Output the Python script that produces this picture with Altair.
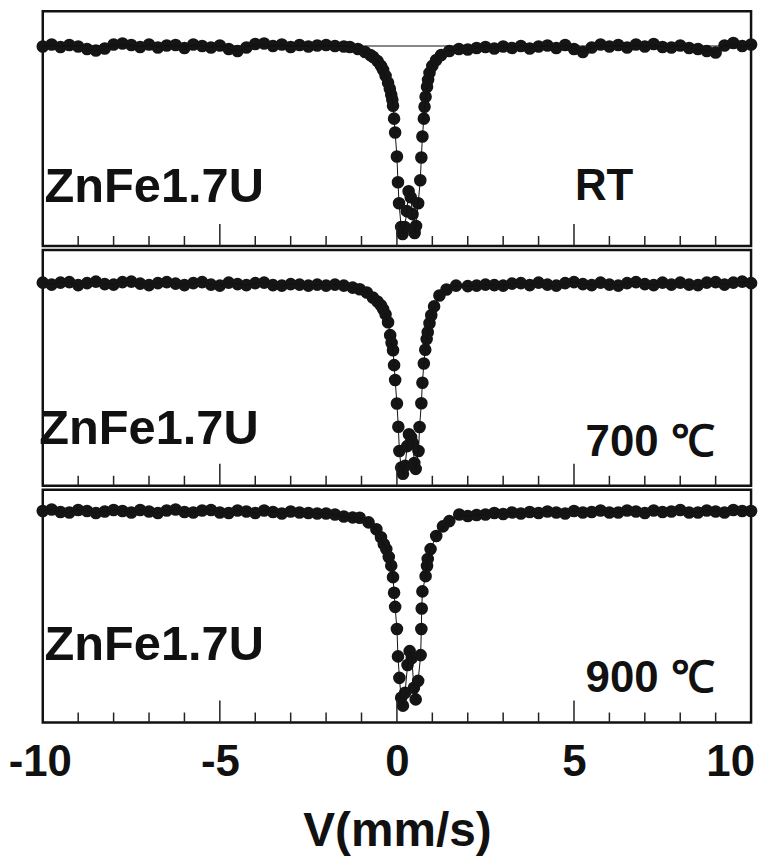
import altair as alt
import pandas as pd

# ---------------- data ----------------
# velocity channels of the wings (mm/s)
wing_left_v = [-10.0, -9.75, -9.5, -9.25, -9.0, -8.75, -8.5, -8.25, -8.0, -7.75, -7.5,
               -7.25, -7.0, -6.75, -6.5, -6.25, -6.0, -5.75, -5.5, -5.25, -5.0, -4.75,
               -4.5, -4.25, -4.0, -3.75, -3.5, -3.25, -3.0, -2.75, -2.5, -2.25, -2.0]
wing_right_v = [2.0, 2.25, 2.5, 2.75, 3.0, 3.25, 3.5, 3.75, 4.0, 4.25, 4.5, 4.75, 5.0,
                5.25, 5.5, 5.75, 6.0, 6.25, 6.5, 6.75, 7.0, 7.25, 7.5, 7.75, 8.0, 8.25,
                8.5, 8.75, 9.0, 9.25, 9.5, 9.75, 10.0]

# relative transmission (%) - RT
rt_left_T = [100.0, 100.2, 99.95, 100.15, 100.0, 99.75, 99.6, 99.8, 100.2, 100.3, 100.15,
             99.95, 100.2, 99.9, 100.1, 100.15, 99.85, 100.2, 100.05, 99.9, 100.1, 99.75,
             99.55, 99.9, 100.25, 100.3, 100.05, 100.2, 99.95, 100.15, 100.0, 100.1, 100.15]
rt_right_T = [99.7, 99.85, 99.95, 99.8, 100.0, 99.85, 100.05, 99.8, 100.0, 100.1, 99.85,
              100.15, 99.75, 99.45, 99.9, 100.2, 100.0, 100.15, 99.9, 100.2, 100.0,
              100.25, 99.95, 99.9, 100.1, 99.85, 99.75, 99.55, 99.4, 100.1, 100.35, 100.05,
              100.2]
rt_dip_v = [-1.75, -1.5, -1.33, -1.1, -0.9, -0.75, -0.67, -0.55, -0.45, -0.39, -0.32,
            -0.25, -0.2, -0.16, -0.13, -0.11, -0.08, -0.05, 0.0, 0.03, 0.06, 0.12, 0.16,
            0.22, 0.28, 0.33, 0.39, 0.44, 0.5, 0.54, 0.6, 0.66, 0.69, 0.72, 0.76, 0.78,
            0.81, 0.85, 0.88, 0.92, 1.0, 1.11, 1.25, 1.48, 1.75]
rt_dip_T = [100.05, 100.0, 99.95, 99.75, 99.45, 99.15, 98.95, 98.55, 98.05, 97.65, 97.05,
            96.35, 95.75, 95.15, 94.65, 94.05, 92.75, 91.35, 88.95, 86.35, 84.25, 81.85,
            81.15, 81.85, 83.45, 85.45, 84.85, 83.15, 81.25, 81.95, 84.25, 86.55, 88.85,
            90.95, 92.75, 93.95, 94.95, 95.95, 96.65, 97.35, 98.05, 98.65, 99.15, 99.55,
            99.75]
rt_comp_v = [-10.0, 10.0]
rt_comp_T = [100.05, 100.05]

# 700 C
s700_left_T = [100.1, 99.9, 100.1, 100.15, 99.85, 100.05, 100.2, 99.95, 99.9, 100.15,
               100.2, 100.0, 99.85, 100.05, 100.15, 100.0, 99.85, 100.05, 100.15, 99.9, 99.8,
               100.1, 99.95, 99.85, 100.05, 100.1, 99.85, 99.8, 99.95, 99.9, 99.8, 99.9,
               99.8]
s700_right_T = [99.75, 99.8, 99.9, 99.85, 99.8, 100.0, 100.05, 99.85, 100.1, 99.9, 99.8,
                100.05, 100.15, 99.95, 99.85, 100.1, 99.9, 99.8, 100.05, 100.15, 99.95, 99.85,
                100.1, 99.9, 100.1, 99.9, 99.85, 100.1, 100.15, 99.9, 100.1, 100.2,
                100.05]
s700_dip_v = [-1.75, -1.5, -1.25, -1.05, -0.85, -0.68, -0.55, -0.45, -0.39, -0.32, -0.25,
              -0.19, -0.15, -0.11, -0.08, -0.05, 0.0, 0.04, 0.07, 0.12, 0.17, 0.23, 0.29,
              0.34, 0.4, 0.45, 0.49, 0.53, 0.61, 0.64, 0.69, 0.72, 0.76, 0.8, 0.84, 0.87,
              0.92, 0.97, 1.05, 1.2, 1.4, 1.67]
s700_dip_T = [99.9, 99.8, 99.6, 99.43, 99.1, 98.6, 98.2, 97.8, 97.43, 96.9, 96.1, 94.8,
              94.0, 93.27, 91.77, 90.27, 87.9, 85.55, 83.1, 81.43, 80.8, 81.6, 83.6, 84.8,
              84.5, 83.9, 81.9, 81.3, 83.1, 85.53, 87.93, 90.0, 91.93, 93.33, 94.4, 95.1,
              96.0, 96.8, 97.7, 98.8, 99.4, 99.8]

# 900 C
s900_left_T = [100.05, 100.2, 99.95, 99.9, 100.15, 100.05, 99.85, 100.0, 100.15, 100.05,
               99.9, 100.15, 100.0, 99.85, 100.1, 100.2, 99.95, 99.9, 100.1, 100.15, 99.9,
               99.85, 100.1, 100.0, 99.85, 100.1, 99.95, 99.8, 100.0, 99.9, 99.85, 99.8,
               99.8]
s900_right_T = [99.55, 99.65, 99.7, 99.85, 99.75, 99.9, 99.8, 99.95, 99.85, 100.0, 99.9,
                99.8, 100.05, 99.9, 99.95, 100.1, 99.9, 99.9, 100.1, 100.0, 99.85, 100.1,
                99.95, 100.0, 100.15, 99.9, 99.9, 100.1, 100.0, 99.9, 100.15, 100.05,
                100.05]
s900_dip_v = [-1.75, -1.5, -1.25, -1.05, -0.8, -0.58, -0.45, -0.37, -0.3, -0.23, -0.16,
              -0.11, -0.08, -0.05, 0.0, 0.03, 0.07, 0.12, 0.17, 0.23, 0.3, 0.36, 0.42,
              0.48, 0.53, 0.6, 0.67, 0.69, 0.7, 0.72, 0.81, 0.85, 0.87, 0.95, 1.11, 1.3,
              1.48, 1.76]
s900_dip_T = [99.7, 99.5, 99.4, 99.37, 98.9, 98.2, 97.4, 96.7, 96.2, 95.4, 94.53, 93.37,
              91.8, 90.37, 88.13, 85.37, 83.2, 81.2, 80.4, 81.7, 84.5, 85.9, 85.2, 82.2,
              81.03, 82.9, 85.5, 88.13, 90.2, 91.93, 93.47, 94.5, 95.2, 96.2, 97.53, 98.5,
              99.03, 99.7]

minor_ticks = [-9, -8, -7, -6, -4, -3, -2, -1, 1, 2, 3, 4, 6, 7, 8, 9]
major_ticks = [-5, 0, 5]
x_labels = [-10, -5, 0, 5, 10]

sample_name = "ZnFe1.7U"
conditions = ["RT", "700 \u2103", "900 \u2103"]

# annotation anchors (data coordinates)
name_pos = [(-9.95, 84.35), (-10.1, 83.8), (-9.95, 85.0)]
cond_pos = [(5.85, 84.6), (7.15, 82.6), (7.15, 81.8)]
cond_size = [44, 44, 44]

# ---------------- chart ----------------
W = 712
FONT = "Liberation Sans"
DOT = "#151515"

def panel(left_T, right_T, dip_v, dip_T, ydom, h, cond, npos, cpos, csize,
          comp=None, bottom=False):
    v = wing_left_v + dip_v + wing_right_v
    T = left_T + dip_T + right_T
    df = pd.DataFrame({"v": v, "T": T}).sort_values("v")
    if bottom:
        xax = alt.Axis(values=x_labels, ticks=False, domain=False, grid=False,
                       labelExpr="'' + datum.value",
                       labelOffset=alt.ExprRef(expr="datum.value == 10 ? -21 : (datum.value == -10 ? -3 : 0)"),
                       labelFont=FONT, labelFontSize=44, labelFontWeight="bold",
                       labelColor="#111", labelPadding=18, title="V(mm/s)",
                       titleFont=FONT, titleFontSize=48, titleFontWeight="bold",
                       titleColor="#111", titlePadding=24, labelFlush=False)
    else:
        xax = None
    xs = alt.Scale(domain=[-10, 10], nice=False, zero=False)
    ys = alt.Scale(domain=ydom, nice=False, zero=False)
    X = alt.X("v:Q", scale=xs, axis=xax)
    Y = alt.Y("T:Q", scale=ys, axis=None)

    pts = alt.Chart(df).mark_circle(size=160, color=DOT, opacity=1).encode(x=X, y=Y)
    fit = alt.Chart(df).mark_line(color="#111", strokeWidth=1).encode(
        x=alt.X("v:Q", scale=xs), y=alt.Y("T:Q", scale=ys))
    layers = [pts, fit]
    if comp is not None:
        cdf = pd.DataFrame({"v": comp[0], "T": comp[1]})
        layers.append(alt.Chart(cdf).mark_line(color="#111", strokeWidth=1).encode(
            x=alt.X("v:Q", scale=xs), y=alt.Y("T:Q", scale=ys)))
    tmin = alt.Chart(pd.DataFrame({"t": minor_ticks})).mark_rule(
        color="#222", strokeWidth=1.5).encode(
        x=alt.X("t:Q", scale=xs), y=alt.value(h), y2=alt.value(h - 10))
    tmaj = alt.Chart(pd.DataFrame({"t": major_ticks})).mark_rule(
        color="#222", strokeWidth=1.5).encode(
        x=alt.X("t:Q", scale=xs), y=alt.value(h), y2=alt.value(h - 22))
    ann = pd.DataFrame({"txt": [sample_name], "v": [npos[0]], "T": [npos[1]]})
    t1 = alt.Chart(ann).mark_text(font=FONT, fontSize=49, fontWeight="bold",
                                  color="#111", align="left",
                                  baseline="alphabetic").encode(
        x=alt.X("v:Q", scale=xs), y=alt.Y("T:Q", scale=ys), text="txt:N")
    ann2 = pd.DataFrame({"txt": [cond], "v": [cpos[0]], "T": [cpos[1]]})
    t2 = alt.Chart(ann2).mark_text(font=FONT, fontSize=csize, fontWeight="bold",
                                   color="#111", align="center",
                                   baseline="alphabetic").encode(
        x=alt.X("v:Q", scale=xs), y=alt.Y("T:Q", scale=ys), text="txt:N")
    layers += [tmin, tmaj, t1, t2]
    return alt.layer(*layers).properties(width=W, height=h)

p1 = panel(rt_left_T, rt_right_T, rt_dip_v, rt_dip_T, [79.95, 103.55], 236,
           conditions[0], name_pos[0], cond_pos[0], cond_size[0],
           comp=(rt_comp_v, rt_comp_T))
p2 = panel(s700_left_T, s700_right_T, s700_dip_v, s700_dip_T, [79.6, 103.4], 237,
           conditions[1], name_pos[1], cond_pos[1], cond_size[1])
p3 = panel(s900_left_T, s900_right_T, s900_dip_v, s900_dip_T, [78.7, 102.2], 234,
           conditions[2], name_pos[2], cond_pos[2], cond_size[2], bottom=True)

chart = alt.vconcat(p1, p2, p3, spacing=0).properties(
    padding={"left": 6, "top": 7, "right": 4, "bottom": 0},
    background="white",
).configure_view(stroke="#111", strokeWidth=2.5)

chart.save("out.html", embed_options={"renderer": "svg", "actions": False})
